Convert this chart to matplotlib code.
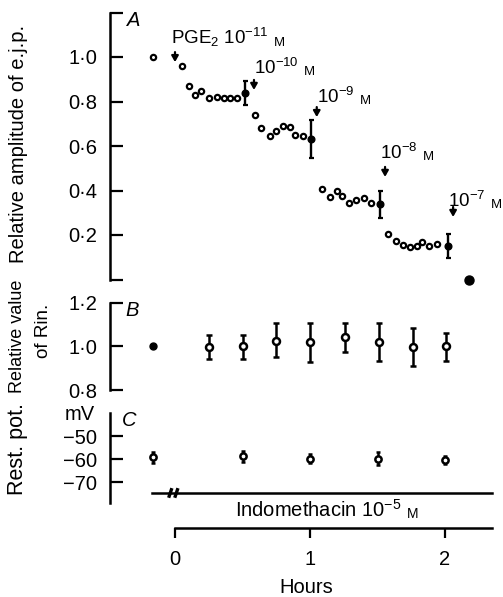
import matplotlib
matplotlib.use("Agg")
import matplotlib.pyplot as plt
from matplotlib.ticker import FixedLocator

plt.rcParams['font.family'] = ['Liberation Sans', 'DejaVu Sans']
plt.rcParams['mathtext.fontset'] = 'custom'
plt.rcParams['mathtext.rm'] = 'Liberation Sans'
plt.rcParams['mathtext.it'] = 'Liberation Sans:italic'

# panel A: relative e.j.p. amplitude (open circles, hours)
a_t = [-0.16, 0.05, 0.10, 0.15, 0.19, 0.25, 0.31, 0.36, 0.41, 0.46,
       0.59, 0.64, 0.70, 0.75, 0.80, 0.85, 0.89, 0.95,
       1.09, 1.15, 1.20, 1.24, 1.29, 1.34, 1.40, 1.45,
       1.58, 1.64, 1.69, 1.74, 1.79, 1.83, 1.88, 1.94]
a_val = [1.00, 0.96, 0.87, 0.83, 0.845, 0.815, 0.82, 0.815, 0.815, 0.815,
         0.74, 0.68, 0.647, 0.666, 0.69, 0.684, 0.65, 0.647,
         0.408, 0.372, 0.40, 0.375, 0.342, 0.356, 0.368, 0.342,
         0.204, 0.174, 0.154, 0.144, 0.149, 0.169, 0.151, 0.159]
# panel A: mean +- s.e. at end of each dose
a_mt = [0.52, 1.01, 1.52, 2.02]
a_mean = [0.838, 0.632, 0.338, 0.151]
a_err = [0.052, 0.085, 0.06, 0.053]
a_last_t = 2.18
a_last = 0.0

# arrows and dose labels
dose_t = [0.0, 0.585, 1.05, 1.556, 2.06]
dose_lab = ['PGE$_2$ 10$^{-11}$', '10$^{-10}$', '10$^{-9}$', '10$^{-8}$', '10$^{-7}$']
dose_lab_t = [-0.03, 0.585, 1.05, 1.52, 2.02]
dose_lab_y = [1.09, 0.95, 0.82, 0.569, 0.353]
arrow_top = [1.022, 0.897, 0.775, 0.506, 0.326]

# panel B: relative input resistance
b_t0 = -0.16
b_v0 = 1.0
b_t = [0.25, 0.50, 0.75, 1.00, 1.26, 1.51, 1.76, 2.01]
b_val = [0.995, 1.0, 1.026, 1.018, 1.041, 1.018, 0.995, 1.0]
b_lo = [0.055, 0.06, 0.077, 0.091, 0.068, 0.083, 0.083, 0.065]
b_hi = [0.057, 0.052, 0.079, 0.087, 0.064, 0.087, 0.087, 0.062]

# panel C: resting potential (mV)
c_t = [-0.16, 0.50, 1.00, 1.50, 2.00]
c_val = [-59.3, -58.8, -59.8, -59.8, -60.3]
c_err = [2.3, 2.5, 2.0, 2.8, 1.8]

W, H = 503, 597
fig = plt.figure(figsize=(W / 100, H / 100), dpi=100)

def fy(px):
    return 1 - px / H

x0 = 110 / W
xlim = ((110 - 175) / 135, (503 - 175) / 135)
fs = 14.5

def setup(ax, ticks, labels, ylim):
    ax.set_xlim(*xlim)
    ax.set_ylim(*ylim)
    ax.patch.set_alpha(0)
    for s in ['top', 'right', 'bottom']:
        ax.spines[s].set_visible(False)
    ax.spines['left'].set_linewidth(1.8)
    ax.set_xticks([])
    ax.yaxis.set_major_locator(FixedLocator(ticks))
    ax.set_yticklabels(labels)
    ax.tick_params(axis='y', direction='in', length=9, width=1.6, pad=9, labelsize=fs)

ax_a = fig.add_axes([x0, fy(279.5), 1 - x0, (279.5 - 12.5) / H])
setup(ax_a, [0, 0.2, 0.4, 0.6, 0.8, 1.0, 1.2],
      ['', '0·2', '0·4', '0·6', '0·8', '1·0', ''], (0, 1.2))
ax_a.plot(a_t, a_val, 'o', ms=3.8, mfc='white', mec='black', mew=1.6, clip_on=False)
ax_a.errorbar(a_mt, a_mean, yerr=a_err, fmt='o', ms=4.8, color='black',
              elinewidth=1.7, capsize=1.8, capthick=1.6, clip_on=False)
ax_a.plot([a_last_t], [a_last], 'o', ms=6.5, color='black', clip_on=False)
for t, top, lt, ly, lab in zip(dose_t, arrow_top, dose_lab_t, dose_lab_y, dose_lab):
    ax_a.annotate('', xy=(t, top - 0.045), xytext=(t, top),
                  arrowprops=dict(arrowstyle='-|>,head_length=0.35,head_width=0.2',
                                  lw=1.6, color='black', shrinkA=0, shrinkB=0))
    txt = ax_a.text(lt, ly, lab, fontsize=13.5, ha='left', va='center')
    ax_a.annotate('M', xy=(1, 0), xycoords=txt, xytext=(4, 0),
                  textcoords='offset points', fontsize=9.5, ha='left', va='bottom')

ax_b = fig.add_axes([x0, fy(390), 1 - x0, (390 - 302.7) / H])
setup(ax_b, [0.8, 1.0, 1.2], ['0·8', '1·0', '1·2'], (0.8, 1.2))
ax_b.plot([b_t0], [b_v0], 'o', ms=5, color='black')
ax_b.errorbar(b_t, b_val, yerr=[b_lo, b_hi], fmt='o', ms=5, mfc='white', mec='black',
              mew=1.8, color='black', elinewidth=1.8, capsize=2, capthick=1.8)

ax_c = fig.add_axes([x0, fy(503), 1 - x0, (503 - 413) / H])
setup(ax_c, [-70, -60, -50], ['−70', '−60', '−50'], (-79.1, -40))
ax_c.errorbar(c_t, c_val, yerr=c_err, fmt='o', ms=4.5, mfc='white', mec='black',
              mew=1.8, color='black', elinewidth=1.8, capsize=1.6, capthick=1.6)

# time axis with indomethacin bar
ax_h = fig.add_axes([x0, fy(528), 1 - x0, (528 - 485) / H])
ax_h.set_xlim(*xlim)
ax_h.set_ylim(0, 1)
ax_h.patch.set_alpha(0)
for s in ['top', 'right', 'left']:
    ax_h.spines[s].set_visible(False)
ax_h.spines['bottom'].set_linewidth(1.8)
ax_h.spines['bottom'].set_bounds(0, 2.35)
ax_h.set_yticks([])
ax_h.set_xticks([0, 1, 2])
ax_h.tick_params(axis='x', direction='out', length=7, width=1.6, pad=9, labelsize=fs)
ax_h.set_xlabel('Hours', fontsize=fs, labelpad=6)
ax_h.plot([-0.17, 2.35], [0.814, 0.814], color='black', lw=1.8, clip_on=False)
for bt in [-0.035, 0.01]:
    ax_h.plot([bt - 0.008, bt + 0.008], [0.74, 0.89], color='black', lw=2.4)
ind = ax_h.text(1.06, 0.42, 'Indomethacin 10$^{-5}$', fontsize=fs, ha='center', va='center')
ax_h.annotate('M', xy=(1, 0), xycoords=ind, xytext=(4, 0),
              textcoords='offset points', fontsize=10, ha='left', va='bottom')

# panel letters and axis titles
fig.text(127 / W, fy(20), 'A', style='italic', fontsize=fs, ha='left', va='center')
fig.text(125 / W, fy(311), 'B', style='italic', fontsize=fs, ha='left', va='center')
fig.text(122 / W, fy(421), 'C', style='italic', fontsize=fs, ha='left', va='center')
fig.text(95 / W, fy(414), 'mV', fontsize=fs, ha='right', va='center')
fig.text(19 / W, fy(144), 'Relative amplitude of e.j.p.', rotation=90,
         fontsize=fs, ha='center', va='center')
fig.text(18 / W, fy(336), 'Relative value', rotation=90, fontsize=13, ha='center', va='center')
fig.text(43 / W, fy(331), 'of Rin.', rotation=90, fontsize=13.5, ha='center', va='center')
fig.text(18 / W, fy(449), 'Rest. pot.', rotation=90, fontsize=15.5, ha='center', va='center')

fig.savefig('out.png', dpi=100)
